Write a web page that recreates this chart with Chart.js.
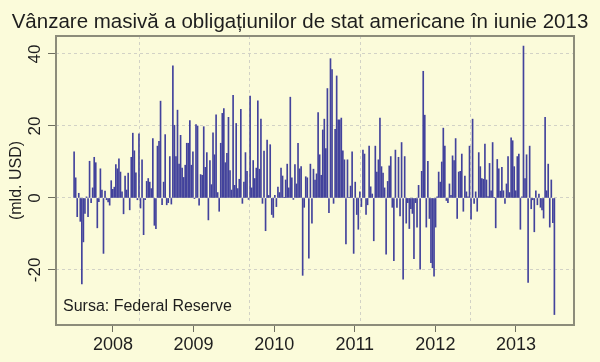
<!DOCTYPE html>
<html>
<head>
<meta charset="utf-8">
<script src="https://cdn.jsdelivr.net/npm/chart.js@4.4.0/dist/chart.umd.min.js"></script>
<style>
  html, body { margin: 0; padding: 0; background: #fbfbda; }
  #chart { display: block; }
</style>
</head>
<body>
<canvas id="chart" width="600" height="362"></canvas>
<script>
// weekly net flows, mld. USD
// Jul 2007 - Jul 2009
const flowsA = [
  12.8, 5.6, -5.2, 1.3, -6.5, -23.9, -12.2, -4.3, 0.3, -5.2,
  10.2, -1.3, 2.8, 11.3, 9.8, -8.3, -1.0, 8.1, 2.2, -15.4,
  1.9, -0.5, -1.1, -2.0, 4.8, 2.4, 3.0, 9.3, 8.1, 10.9,
  7.2, 1.7, -4.4, 6.1, 2.2, 6.9, -3.3, 11.3, 18.0, 13.1,
  7.0, -0.5, 17.8, -2.8, 10.6, -10.2, -0.5, 4.6, 5.4, 4.4,
  2.6, 16.5, -7.6, -8.5, 14.4, 15.7, 26.9, -1.9, 4.4, 17.6,
  -1.9, -1.3, 11.5, -1.7, 36.7, 20.2, 11.5, 24.4, 9.4, 17.4,
  8.3, 5.7, 9.1, 15.2, 15.2, 21.5, 9.1, 12.8, -0.2, 20.4,
  20.0, -2.0, 6.5, 6.3, 19.8, 8.5, 12.6, -6.1, 10.4, 3.7,
  18.1, 12.0, 23.1, 1.5, -3.7, 15.2, 23.5, 24.8, 9.8, 12.4,
  22.4, 7.6, 2.2, 28.5
];
// Jul 2009 - Jun 2011
const flowsB = [
  3.5, 20.7, 2.6, 5.2, 24.6, -1.5, 4.4, 12.6, 7.4, -0.4,
  28.3, 2.8, 10.4, 5.4, 8.3, 27.0, 8.0, 21.9, -1.5, 13.0,
  -9.1, 16.1, 0.7, 14.8, -4.6, -5.4, 0.7, -2.4, 3.0, 1.5,
  8.3, 6.1, 0.2, 5.0, 9.4, 2.8, 28.0, 5.6, -0.4, 9.3,
  3.9, 15.2, 8.1, 8.7, -21.5, -2.6, 5.9, 5.6, -16.7, 9.4,
  -7.0, 8.0, 5.0, 6.7, 23.7, 12.0, 6.3, 18.9, 21.9, 13.7,
  30.4, -4.1, 38.7, 35.7, -1.5, 19.1, 33.9, 21.7, 21.7, 22.2,
  13.1, 10.6, -12.8, 10.6, 0.2, 3.3, 12.8, -15.4, 4.4, -4.6,
  -8.7, 1.7, -2.4, 13.3, 12.2, -4.6, -1.9, 14.4, 3.1, 1.1,
  -11.9, 14.4, 7.2, 10.6, 22.2, 8.7, 6.9, 2.8, -15.6, 4.6,
  8.9, 11.5, -2.6, -17.4
];
// Jun 2011 - Jun 2013
const flowsC = [
  13.3, -2.6, 11.3, -5.0, 15.4, -22.6, 11.5, -7.0, -1.3, -8.5,
  -3.0, -4.3, -16.9, -1.3, -8.1, 3.5, -19.8, 7.4, 35.2, 23.0,
  -8.1, 10.2, -5.7, -18.0, -19.4, -21.7, -8.1, 0.3, 7.2, 4.4,
  10.0, 19.4, 14.4, -0.7, -1.3, 3.9, 0.7, 11.7, 10.4, 16.5,
  -5.7, 7.2, 7.4, 12.2, -3.7, 6.1, 1.7, 0.3, 14.4, -5.9,
  21.9, -1.5, 1.7, -3.7, 12.6, 8.7, 5.4, 5.2, 15.0, 5.0,
  0.4, 9.6, 2.0, 15.4, 0.2, -8.3, 10.7, 8.1, 1.9, 8.5,
  2.0, -1.5, 3.9, 11.5, 1.5, 16.7, 15.9, 8.7, 2.0, 11.5,
  12.2, -8.7, 0.3, 42.2, 5.4, 12.0, -23.5, 14.4, -3.0, -0.5,
  -9.4, 2.0, -1.9, 1.1, -2.6, -3.3, -5.6, 22.4, 2.0, 9.4,
  -8.1, 5.0, -6.9, -32.4
];

const firstWeek = new Date(2007, 6, 9); // first weekly observation
const yearTicks = [2008, 2009, 2010, 2011, 2012, 2013];
const yTicks = [-20, 0, 20, 40];
const gridYears = [2008.32, 2009.69, 2011.06, 2012.43]; // vertical dashed lines
const titleText = "Vânzare masivă a obligațiunilor de stat americane în iunie 2013";
const yTitle = "(mld. USD)";
const sourceText = "Sursa: Federal Reserve";

// date -> decimal year
function decYear(d) {
  const y = d.getFullYear();
  const start = new Date(y, 0, 1);
  const end = new Date(y + 1, 0, 1);
  return y + (d - start) / (end - start);
}

const allFlows = flowsA.concat(flowsB, flowsC);
const points = allFlows.map((v, i) => {
  const d = new Date(firstWeek.getTime() + i * 7 * 86400000);
  return { x: decYear(d), y: v };
});

const BG = "#fbfbda";
const FONT = '"Liberation Sans", Arial, sans-serif';

const chartDecor = {
  id: "chartDecor",
  beforeDraw(chart) {
    const ctx = chart.ctx;
    ctx.save();
    ctx.fillStyle = BG;
    ctx.fillRect(0, 0, chart.width, chart.height);
    ctx.restore();
  },
  beforeDatasetsDraw(chart) {
    const ctx = chart.ctx;
    const area = chart.chartArea;
    const xs = chart.scales.x;
    ctx.save();
    ctx.strokeStyle = "#d2d2c6";
    ctx.lineWidth = 1;
    ctx.setLineDash([3, 3]);
    gridYears.forEach((g) => {
      const px = Math.round(xs.getPixelForValue(g)) + 0.5;
      ctx.beginPath();
      ctx.moveTo(px, area.top);
      ctx.lineTo(px, area.bottom);
      ctx.stroke();
    });
    ctx.restore();
  },
  afterDraw(chart) {
    const ctx = chart.ctx;
    const area = chart.chartArea;
    const ys = chart.scales.y;
    ctx.save();
    // frame
    ctx.strokeStyle = "#8c8c7a";
    ctx.lineWidth = 2;
    ctx.strokeRect(area.left, area.top, area.right - area.left, area.bottom - area.top);

    // title
    ctx.fillStyle = "#1e1e1e";
    ctx.font = "20.5px " + FONT;
    ctx.textAlign = "center";
    ctx.textBaseline = "alphabetic";
    ctx.fillText(titleText, 300, 28);

    // rotated y tick labels
    ctx.font = "17px " + FONT;
    ys.ticks.forEach((t) => {
      const py = ys.getPixelForValue(t.value);
      ctx.save();
      ctx.translate(35, py);
      ctx.rotate(-Math.PI / 2);
      ctx.textAlign = "center";
      ctx.textBaseline = "middle";
      ctx.fillText(String(t.value), 0, 0);
      ctx.restore();
    });

    // y axis title
    ctx.font = "16px " + FONT;
    ctx.save();
    ctx.translate(17, (area.top + area.bottom) / 2);
    ctx.rotate(-Math.PI / 2);
    ctx.textAlign = "center";
    ctx.textBaseline = "middle";
    ctx.fillText(yTitle, 0, 0);
    ctx.restore();

    // source note
    ctx.font = "16px " + FONT;
    ctx.textAlign = "left";
    ctx.textBaseline = "middle";
    ctx.fillText(sourceText, area.left + 7, area.bottom - 18);
    ctx.restore();
  },
};

const ctx = document.getElementById("chart").getContext("2d");
const myChart = new Chart(ctx, {
  type: "bar",
  data: {
    datasets: [
      {
        data: points,
        backgroundColor: "rgb(66, 66, 156)",
        borderWidth: 0,
        barThickness: 1,
      },
    ],
  },
  options: {
    responsive: false,
    animation: false,
    devicePixelRatio: 1,
    layout: { padding: { left: 0, right: 26, top: 36, bottom: 0 } },
    plugins: {
      legend: { display: false },
      tooltip: { enabled: false },
      title: { display: false },
    },
    scales: {
      x: {
        type: "linear",
        offset: false,
        min: 2007.293,
        max: 2013.72,
        afterBuildTicks: (s) => {
          s.ticks = yearTicks.map((v) => ({ value: v }));
        },
        afterFit: (s) => {
          s.height = 37;
        },
        ticks: {
          autoSkip: false,
          maxRotation: 0,
          minRotation: 0,
          padding: 2,
          color: "#1e1e1e",
          font: { family: FONT, size: 18 },
          callback: (v) => String(v),
        },
        grid: {
          offset: false,
          drawOnChartArea: false,
          drawTicks: true,
          tickLength: 7,
          tickColor: "#6e6e60",
          tickWidth: 1,
          tickBorderDash: [],
        },
        border: { display: false },
      },
      y: {
        type: "linear",
        min: -35.3,
        max: 45,
        afterBuildTicks: (s) => {
          s.ticks = yTicks.map((v) => ({ value: v }));
        },
        afterFit: (s) => {
          s.width = 56;
        },
        ticks: { display: false },
        grid: {
          color: "#d2d2c6",
          lineWidth: 1,
          drawTicks: true,
          tickLength: 8,
          tickColor: "#6e6e60",
          tickWidth: 1,
          tickBorderDash: [],
        },
        border: { display: false, dash: [3, 3] },
      },
    },
  },
  plugins: [chartDecor],
});
</script>
</body>
</html>
